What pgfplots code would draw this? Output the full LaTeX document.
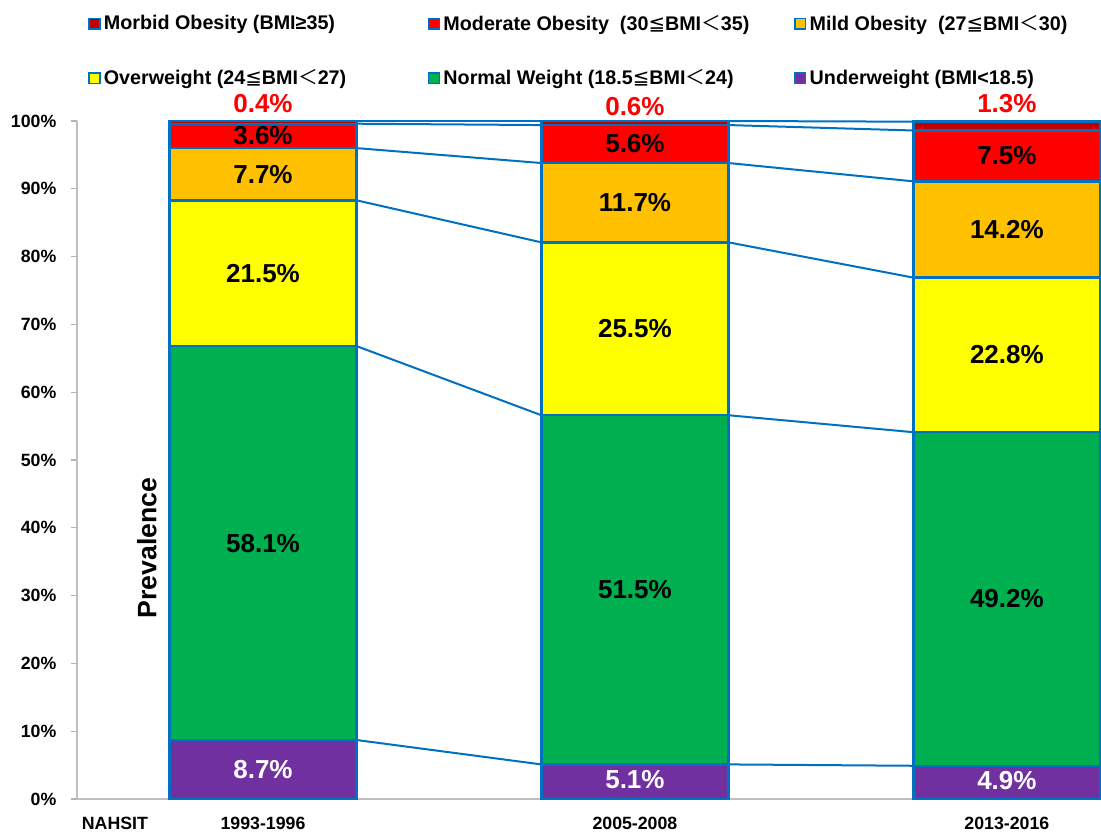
\documentclass[border=0pt]{standalone}
\usepackage{fontspec}
\setmainfont{Liberation Sans}
\newfontfamily\cjk{Noto Sans CJK SC}
\newfontfamily\dejavu{DejaVu Sans}
\usepackage{pgfplots}
\pgfplotsset{compat=1.18}
\definecolor{cUnder}{HTML}{7030A0}
\definecolor{cNormal}{HTML}{00B050}
\definecolor{cOver}{HTML}{FFFF00}
\definecolor{cMild}{HTML}{FFC000}
\definecolor{cMod}{HTML}{FF0000}
\definecolor{cMorb}{HTML}{C00000}
\definecolor{cEdge}{HTML}{0070C0}
\newcommand{\cleq}{{\dejavu\mdseries ≦}}
\newcommand{\clt}{{\cjk\mdseries ＜}}
\pgfplotsset{sq/.style={fill=#1, draw=cEdge, line width=1.8pt,
  legend image code/.code={\draw[fill=#1, draw=cEdge, line width=1.2pt] (0pt,-4pt) rectangle (8pt,4pt);}}}
\begin{document}
\begin{tikzpicture}
\useasboundingbox (0,0) rectangle (825.75pt,-627.75pt);
\begin{axis}[
  at={(57.75pt,-599.25pt)}, anchor=south west,
  scale only axis, width=768pt, height=508.5pt,
  ybar stacked, bar width=0.503,
  xmin=-0.5, xmax=2.253, ymin=0, ymax=100,
  clip=false,
  axis x line*=bottom, axis y line*=left,
  axis line style={-, draw=black!25, line width=1pt},
  xtick={0,1,2}, xticklabels={1993-1996,2005-2008,2013-2016},
  extra x ticks={-0.398}, extra x tick labels={NAHSIT},
  x tick style={draw=none},
  extra x tick style={tick style={draw=none}},
  xticklabel style={anchor=base, yshift=-18.5pt},
  ytick={0,10,...,100},
  yticklabel={\pgfmathprintnumber{\tick}\%},
  yticklabel style={xshift=-7.5pt},
  y tick style={draw=black!30, line width=1pt},
  tick align=outside, major tick length=4.5pt,
  ticklabel style={font=\fontsize{13.3}{15}\selectfont\bfseries},
  /pgf/number format/assume math mode=true,
  legend columns=3, reverse legend,
  legend style={draw=none, fill=none, at={(axis description cs:0,1)}, anchor=north west,
    xshift=8.25pt, yshift=79.5pt, font=\fontsize{14.8}{17}\selectfont\bfseries,
    column sep=0pt, row sep=28pt, inner sep=0pt, nodes={inner sep=0pt}},
]
\addplot[sq=cUnder] coordinates {(0,8.7) (1,5.1) (2,4.9)};
\addlegendentry{\hspace{2.5pt}\makebox[243pt][l]{Underweight (BMI<18.5)}}
\addplot[sq=cNormal] coordinates {(0,58.1) (1,51.5) (2,49.2)};
\addlegendentry{\hspace{2.5pt}\makebox[263pt][l]{Normal Weight (18.5\cleq BMI\clt 24)}}
\addplot[sq=cOver] coordinates {(0,21.5) (1,25.5) (2,22.8)};
\addlegendentry{\hspace{2.5pt}\makebox[243pt][l]{Overweight (24\cleq BMI\clt 27)}}
\addplot[sq=cMild] coordinates {(0,7.7) (1,11.7) (2,14.2)};
\addlegendentry{\hspace{2.5pt}\makebox[243pt][l]{Mild Obesity\ \ (27\cleq BMI\clt 30)}}
\addplot[sq=cMod] coordinates {(0,3.6) (1,5.6) (2,7.5)};
\addlegendentry{\hspace{2.5pt}\makebox[263pt][l]{Moderate Obesity\ \ (30\cleq BMI\clt 35)}}
\addplot[sq=cMorb] coordinates {(0,0.4) (1,0.6) (2,1.3)};
\addlegendentry{\hspace{2.5pt}\makebox[243pt][l]{Morbid Obesity (BMI≥35)}}
\end{axis}
\begin{axis}[
  at={(57.75pt,-599.25pt)}, anchor=south west,
  scale only axis, width=768pt, height=508.5pt,
  xmin=-0.5, xmax=2.253, ymin=0, ymax=100,
  hide axis, clip=false,
]
% series lines
\addplot[cEdge, line width=1.5pt] coordinates {(0.2515,8.7) (0.7485,5.1)};
\addplot[cEdge, line width=1.5pt] coordinates {(0.2515,66.8) (0.7485,56.6)};
\addplot[cEdge, line width=1.5pt] coordinates {(0.2515,88.3) (0.7485,82.1)};
\addplot[cEdge, line width=1.5pt] coordinates {(0.2515,96.0) (0.7485,93.8)};
\addplot[cEdge, line width=1.5pt] coordinates {(0.2515,99.6) (0.7485,99.4)};
\addplot[cEdge, line width=1.5pt] coordinates {(0.2515,100) (0.7485,100)};
\addplot[cEdge, line width=1.5pt] coordinates {(1.2515,5.1) (1.7485,4.9)};
\addplot[cEdge, line width=1.5pt] coordinates {(1.2515,56.6) (1.7485,54.1)};
\addplot[cEdge, line width=1.5pt] coordinates {(1.2515,82.1) (1.7485,76.9)};
\addplot[cEdge, line width=1.5pt] coordinates {(1.2515,93.8) (1.7485,91.1)};
\addplot[cEdge, line width=1.5pt] coordinates {(1.2515,99.4) (1.7485,98.6)};
\addplot[cEdge, line width=1.5pt] coordinates {(1.2515,100) (1.7485,99.9)};
% labels
\addplot[draw=none, mark=none, nodes near coords, point meta=explicit symbolic,
  every node near coord/.append style={anchor=center, inner sep=0pt, text=black, font=\fontsize{19.5}{22}\selectfont\bfseries}]
  coordinates {(0,37.75)[58.1\%] (0,77.55)[21.5\%] (0,92.15)[7.7\%] (0,97.8)[3.6\%]
               (1,30.85)[51.5\%] (1,69.35)[25.5\%] (1,87.95)[11.7\%] (1,96.6)[5.6\%]
               (2,29.5)[49.2\%] (2,65.5)[22.8\%] (2,84.0)[14.2\%] (2,94.85)[7.5\%]};
\addplot[draw=none, mark=none, nodes near coords, point meta=explicit symbolic,
  every node near coord/.append style={anchor=center, inner sep=0pt, text=white, font=\fontsize{19.5}{22}\selectfont\bfseries}]
  coordinates {(0,4.35)[8.7\%] (1,2.9)[5.1\%] (2,2.7)[4.9\%]};
\addplot[draw=none, mark=none, nodes near coords, point meta=explicit symbolic,
  every node near coord/.append style={anchor=center, inner sep=0pt, text=cMod, font=\fontsize{19.5}{22}\selectfont\bfseries}]
  coordinates {(0,102.6)[0.4\%] (1,102.2)[0.6\%] (2,102.5)[1.3\%]};
\node[rotate=90, font=\fontsize{20}{24}\selectfont\bfseries] at (axis cs:-0.312,37) {Prevalence};
\end{axis}
\end{tikzpicture}
\end{document}
